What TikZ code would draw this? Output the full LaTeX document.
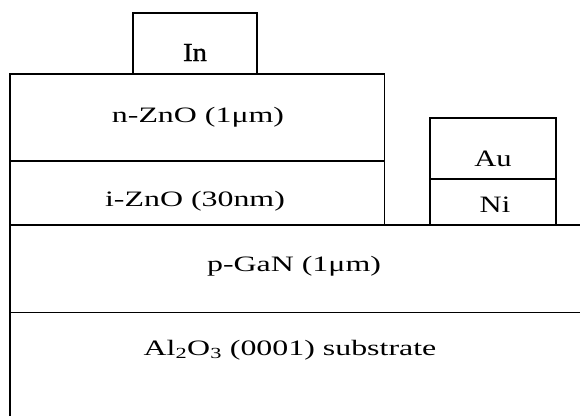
\documentclass[tikz,border=0pt]{standalone}
\usepackage{fontspec}
\setmainfont{Liberation Serif}
\newfontfamily\lblfont{Liberation Serif}[FakeStretch=1.45]
\newfontfamily\mtlfont{Liberation Serif}[FakeStretch=1.3]
\newfontfamily\infont{Liberation Serif}[FakeStretch=1.1,FakeBold=1]
\begin{document}
\begin{tikzpicture}[x=1pt,y=-1pt,
  layer/.style={line width=1.8pt,line join=miter},
  lbl/.style={anchor=base,inner sep=0pt,font=\lblfont\fontsize{22}{22}\selectfont},
  mtl/.style={anchor=base,inner sep=0pt,font=\mtlfont\fontsize{23.5}{23.5}\selectfont},
  inlbl/.style={anchor=base,inner sep=0pt,font=\infont\fontsize{26}{26}\selectfont}]
\useasboundingbox (0,0) rectangle (580,416);
% layers
\draw[layer] (9.7,416) -- (9.7,74) -- (384.5,74) -- (384.5,225);
\draw[layer] (9.7,161) -- (384.5,161);
\draw[layer] (9.7,225) -- (580,225);
\draw[layer] (9.7,312.5) -- (580,312.5);
\draw[layer] (133,74) -- (133,12.7) -- (257,12.7) -- (257,74);
\draw[layer] (430,225) -- (430,118) -- (556,118) -- (556,225);
\draw[layer] (430,179) -- (556,179);
% labels
\node[inlbl] (in) at (195,61) {In};
\node[lbl] (nzno) at (198,122) {n-ZnO (1μm)};
\node[lbl] (izno) at (195,206.7) {i-ZnO (30nm)};
\node[mtl] (au) at (493,166.7) {Au};
\node[mtl] (ni) at (495,212.7) {Ni};
\node[lbl] (pgan) at (294,271.7) {p-GaN (1μm)};
\node[lbl] (sub) at (290,355.7) {Al\textsubscript{2}O\textsubscript{3} (0001) substrate};
\end{tikzpicture}
\end{document}
